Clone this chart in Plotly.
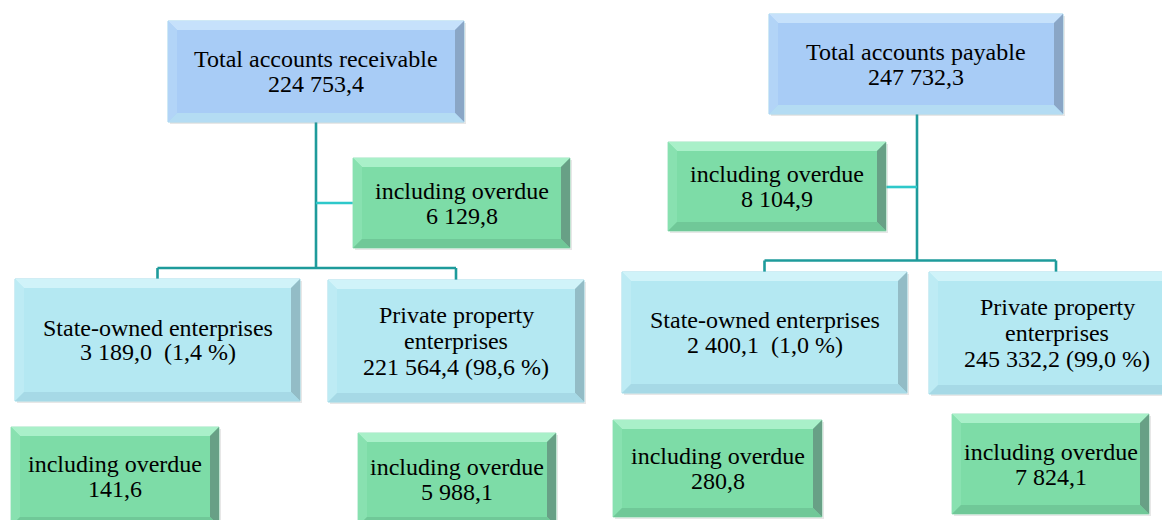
import plotly.graph_objects as go

# ---------------- data ----------------
sides = ["receivable", "payable"]
total_values = [224753.4, 247732.3]
total_overdue = [6129.8, 8104.9]
state_values = [3189.0, 2400.1]
state_shares = [1.4, 1.0]
private_values = [221564.4, 245332.2]
private_shares = [98.6, 99.0]
state_overdue = [141.6, 280.8]
private_overdue = [5988.1, 7824.1]

total_titles = ["Total accounts receivable", "Total accounts payable"]
overdue_title = "including overdue"
state_title = "State-owned enterprises"
private_title = ["Private property", "enterprises"]


def fmt(v):
    s = f"{v:,.1f}"
    return s.replace(",", " ").replace(".", ",")


def pct(p):
    return f"({fmt(p)} %)"


# ---------------- layout geometry (page px, y downwards) ----------------
W, H = 1170, 520
OFF = 8  # default page body margin
geom = [
    dict(total=(168, 21, 464, 122), overdue=(353, 158, 570, 248),
         state=(15, 279, 300, 401), private=(328, 280, 584, 402),
         s_ov=(11, 427, 219, 526), p_ov=(358, 433, 556, 526),
         trunk_x=316, branch_y=203, bar_y=268, drops=(157.5, 456)),
    dict(total=(769, 14, 1063, 114), overdue=(668, 142, 886, 231),
         state=(622, 272, 907, 393), private=(929, 272, 1185, 394),
         s_ov=(613, 420, 822, 517), p_ov=(952, 414, 1149, 514),
         trunk_x=917, branch_y=187, bar_y=260.5, drops=(764.5, 1056)),
]

palette = {
    "blue": dict(face="#a8ccf6", top="#c6e1fb", left="#b2d4f7", right="#8aa6c6", bottom="#b4dcf3", edge="#9fd3ea"),
    "cyan": dict(face="#b4e8f2", top="#d0f3f9", left="#bdebf4", right="#93bcc6", bottom="#a6d9e6", edge="#a0dbe8"),
    "green": dict(face="#7ddca7", top="#a9f0c9", left="#88e1b0", right="#68a086", bottom="#70c898", edge="#9fe3c0"),
}
LINE_MAIN = "#1e9b9b"
LINE_BRANCH = "#2ec8ca"
FONT = "Liberation Serif"
FS = 24
LS = 25

shapes = []
annotations = []


def poly(pts, color, width=0, lcolor=None):
    d = "M " + " L ".join(f"{x},{y}" for x, y in pts) + " Z"
    shapes.append(dict(type="path", path=d, xref="x", yref="y",
                       fillcolor=color, line=dict(width=width, color=lcolor or color),
                       layer="above"))


def line(x0, y0, x1, y1, color):
    shapes.append(dict(type="line", x0=x0, y0=y0, x1=x1, y1=y1, xref="x", yref="y",
                       line=dict(color=color, width=2.6), layer="above"))


def box(rect, style, lines, ls=LS):
    x0, y0, x1, y1 = rect
    b = 9
    c = palette[style]
    poly([(x0 + 2, y0 + 2), (x1 + 2, y0 + 2), (x1 + 2, y1 + 2), (x0 + 2, y1 + 2)], "rgba(120,120,120,0.18)")
    poly([(x0, y0), (x1, y0), (x1, y1), (x0, y1)], c["face"], 1, c["edge"])
    poly([(x0, y0), (x1, y0), (x1 - b, y0 + b), (x0 + b, y0 + b)], c["top"])
    poly([(x0, y0), (x0 + b, y0 + b), (x0 + b, y1 - b), (x0, y1)], c["left"])
    poly([(x1, y0), (x1, y1), (x1 - b, y1 - b), (x1 - b, y0 + b)], c["right"])
    poly([(x0, y1), (x1, y1), (x1 - b, y1 - b), (x0 + b, y1 - b)], c["bottom"])
    cx = (x0 + x1) / 2
    cy = (y0 + y1) / 2
    n = len(lines)
    for i, t in enumerate(lines):
        annotations.append(dict(x=cx, y=cy + (i - (n - 1) / 2) * ls, xref="x", yref="y",
                                text=t, showarrow=False, xanchor="center", yanchor="middle",
                                font=dict(family=FONT, size=FS, color="black")))


for k, g in enumerate(geom):
    tx = g["trunk_x"]
    line(tx, g["total"][3], tx, g["bar_y"], LINE_MAIN)
    if g["overdue"][0] > tx:
        line(tx, g["branch_y"], g["overdue"][0], g["branch_y"], LINE_BRANCH)
    else:
        line(g["overdue"][2], g["branch_y"], tx, g["branch_y"], LINE_BRANCH)
    dl, dr = g["drops"]
    line(dl, g["bar_y"], dr, g["bar_y"], LINE_MAIN)
    line(dl, g["bar_y"], dl, g["state"][1], LINE_MAIN)
    line(dr, g["bar_y"], dr, g["private"][1], LINE_MAIN)

    box(g["total"], "blue", [total_titles[k], fmt(total_values[k])])
    box(g["overdue"], "green", [overdue_title, fmt(total_overdue[k])])
    box(g["state"], "cyan", [state_title, fmt(state_values[k]) + "\u00a0\u00a0" + pct(state_shares[k])], ls=24.5)
    box(g["private"], "cyan", private_title + [fmt(private_values[k]) + " " + pct(private_shares[k])], ls=26)
    box(g["s_ov"], "green", [overdue_title, fmt(state_overdue[k])])
    box(g["p_ov"], "green", [overdue_title, fmt(private_overdue[k])])

fig = go.Figure()
fig.update_layout(
    width=W - OFF, height=H - OFF,
    margin=dict(l=0, r=0, t=0, b=0),
    paper_bgcolor="white", plot_bgcolor="white",
    xaxis=dict(range=[OFF, W], visible=False, fixedrange=True),
    yaxis=dict(range=[H, OFF], visible=False, fixedrange=True),
    shapes=shapes, annotations=annotations,
    showlegend=False,
)
fig.write_html("out.html")
